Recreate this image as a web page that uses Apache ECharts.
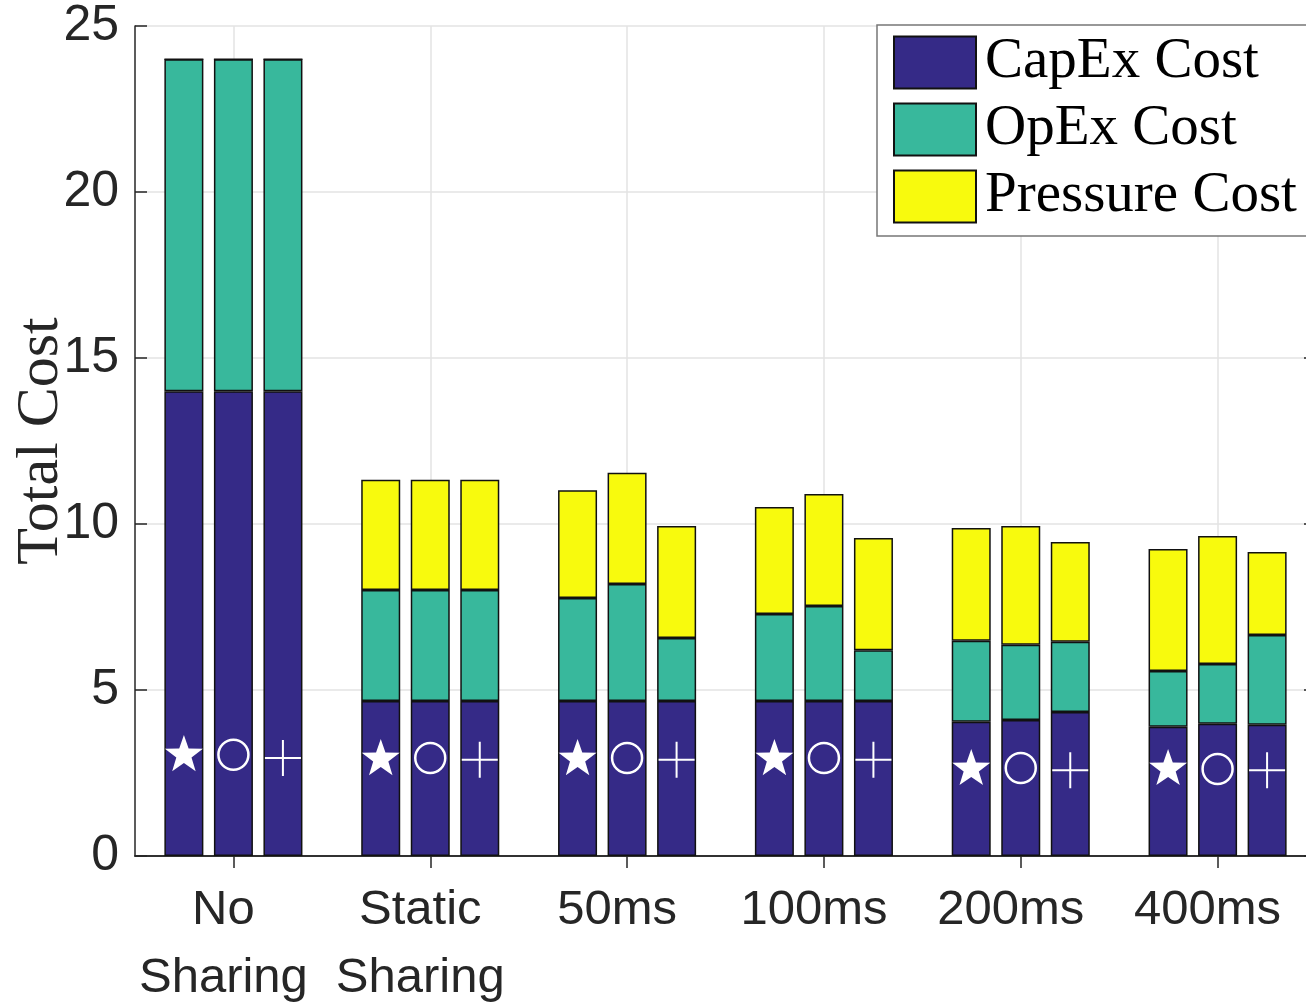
<!DOCTYPE html>
<html>
<head>
<meta charset="utf-8">
<script src="https://cdn.jsdelivr.net/npm/echarts@6/dist/echarts.min.js"></script>
<style>
  html, body { margin: 0; padding: 0; background: #fff; }
  #chart { width: 1306px; height: 1005px; }
</style>
</head>
<body>
<div id="chart"></div>
<script>
const categories = ['No\nSharing', 'Static\nSharing', '50ms', '100ms', '200ms', '400ms'];

// one stack per bar slot: star, circle, plus
const capexStar = [14, 4.67, 4.67, 4.67, 4.04, 3.89];
const capexCircle = [14, 4.67, 4.67, 4.67, 4.10, 3.98];
const capexPlus = [14, 4.67, 4.67, 4.67, 4.34, 3.95];

const opexStar = [10, 3.34, 3.10, 2.62, 2.44, 1.68];
const opexCircle = [10, 3.34, 3.52, 2.86, 2.26, 1.80];
const opexPlus = [10, 3.34, 1.90, 1.53, 2.11, 2.71];

const pressureStar = [0, 3.32, 3.25, 3.22, 3.40, 3.68];
const pressureCircle = [0, 3.32, 3.35, 3.37, 3.58, 3.86];
const pressurePlus = [0, 3.32, 3.37, 3.38, 3.01, 2.50];

// marker heights inside the capex segment
const starY = [3.1, 2.98, 2.98, 2.98, 2.68, 2.68];
const circleY = [3.05, 2.95, 2.95, 2.95, 2.65, 2.62];
const plusY = [2.95, 2.9, 2.9, 2.9, 2.58, 2.58];

const yTicks = [0, 5, 10, 15, 20, 25];

const colors = {
  capex: '#352a87',
  opex: '#38b89c',
  pressure: '#f8fa0d'
};

const chart = echarts.init(document.getElementById('chart'));

function barSeries(name, data, stack, color) {
  return {
    name: name,
    type: 'bar',
    stack: stack,
    data: data,
    barWidth: 39,
    barGap: '27%',
    itemStyle: { color: color, borderColor: '#111', borderWidth: 1.5 },
    emphasis: { disabled: true }
  };
}

const stacks = [
  ['a', capexStar, opexStar, pressureStar],
  ['b', capexCircle, opexCircle, pressureCircle],
  ['c', capexPlus, opexPlus, pressurePlus]
];

const series = [];
stacks.forEach(([stack, capex, opex, pressure]) => {
  series.push(barSeries('CapEx Cost', capex, stack, colors.capex));
  series.push(barSeries('OpEx Cost', opex, stack, colors.opex));
  series.push(barSeries('Pressure Cost', pressure, stack, colors.pressure));
});

const starPath = 'path://M0,-10 L2.35,-3.24 L9.51,-3.09 L3.8,1.24 L5.88,8.09 L0,4 L-5.88,8.09 L-3.8,1.24 L-9.51,-3.09 L-2.35,-3.24 Z';

series.push({
  type: 'scatter',
  data: starY,
  symbol: starPath,
  symbolKeepAspect: true,
  symbolSize: 38,
  symbolOffset: [-49.5, 0],
  itemStyle: { color: '#fff', opacity: 1 },
  silent: true,
  z: 5
});
series.push({
  type: 'scatter',
  data: circleY,
  symbol: 'circle',
  symbolSize: 30,
  itemStyle: { color: 'rgba(0,0,0,0)', borderColor: '#fff', borderWidth: 2.5, opacity: 1 },
  silent: true,
  z: 5
});
series.push({
  type: 'scatter',
  data: plusY,
  symbol: 'path://M0,-10 L0,10 M-10,0 L10,0',
  symbolSize: 36,
  symbolOffset: [49.5, 0],
  itemStyle: { color: 'none', borderColor: '#fff', borderWidth: 2, opacity: 1 },
  silent: true,
  z: 5
});

const axisColor = '#262626';

const option = {
  animation: false,
  backgroundColor: '#fff',
  grid: {
    left: 135,
    right: -10,
    top: 26,
    bottom: 149,
    containLabel: false,
    outerBoundsMode: 'none'
  },
  legend: {
    orient: 'vertical',
    left: 877,
    top: 25,
    data: ['CapEx Cost', 'OpEx Cost', 'Pressure Cost'],
    itemWidth: 82,
    itemHeight: 52,
    itemGap: 10,
    padding: [9, 30, 11, 16],
    backgroundColor: '#fff',
    borderColor: '#777',
    borderWidth: 1.5,
    icon: 'rect',
    textStyle: {
      fontFamily: 'Liberation Serif',
      fontSize: 57,
      color: '#000',
      padding: [0, 0, 0, 4]
    }
  },
  xAxis: [
    {
      type: 'category',
      data: categories,
      axisLine: { lineStyle: { color: axisColor, width: 1.5 } },
      axisTick: { show: false },
      axisLabel: {
        color: axisColor,
        fontFamily: 'Liberation Sans',
        fontSize: 49,
        lineHeight: 68,
        margin: 20,
        interval: 0,
        verticalAlign: 'top',
        padding: [0, 20, 0, 0]
      },
      splitLine: {
        show: true,
        alignWithLabel: true,
        lineStyle: { color: '#e3e3e3', width: 1.5 }
      }
    },
    {
      type: 'category',
      position: 'top',
      data: categories,
      axisLine: { lineStyle: { color: axisColor, width: 1.5 } },
      axisTick: { show: true, inside: true, alignWithLabel: true, length: 12, lineStyle: { color: axisColor, width: 1.5 } },
      axisLabel: { show: false },
      splitLine: { show: false }
    }
  ],
  yAxis: [
    {
      type: 'value',
      min: yTicks[0],
      max: yTicks[yTicks.length - 1],
      interval: 5,
      name: 'Total Cost',
      nameLocation: 'middle',
      nameGap: 64,
      nameMoveOverlap: false,
      nameTextStyle: {
        fontFamily: 'Liberation Serif',
        fontSize: 60,
        color: axisColor
      },
      axisLine: { show: true, lineStyle: { color: axisColor, width: 1.5 } },
      axisTick: { show: true, inside: true, length: 12, lineStyle: { color: axisColor, width: 1.5 } },
      axisLabel: {
        color: axisColor,
        fontFamily: 'Liberation Sans',
        fontSize: 50,
        margin: 16
      },
      splitLine: { show: true, lineStyle: { color: '#e3e3e3', width: 1.5 } }
    },
    {
      type: 'value',
      position: 'right',
      min: yTicks[0],
      max: yTicks[yTicks.length - 1],
      interval: 5,
      axisLine: { show: true, lineStyle: { color: axisColor, width: 1.5 } },
      axisTick: { show: true, inside: true, length: 12, lineStyle: { color: axisColor, width: 1.5 } },
      axisLabel: { show: false },
      splitLine: { show: false }
    }
  ],
  series: series
};

chart.setOption(option);
</script>
</body>
</html>
